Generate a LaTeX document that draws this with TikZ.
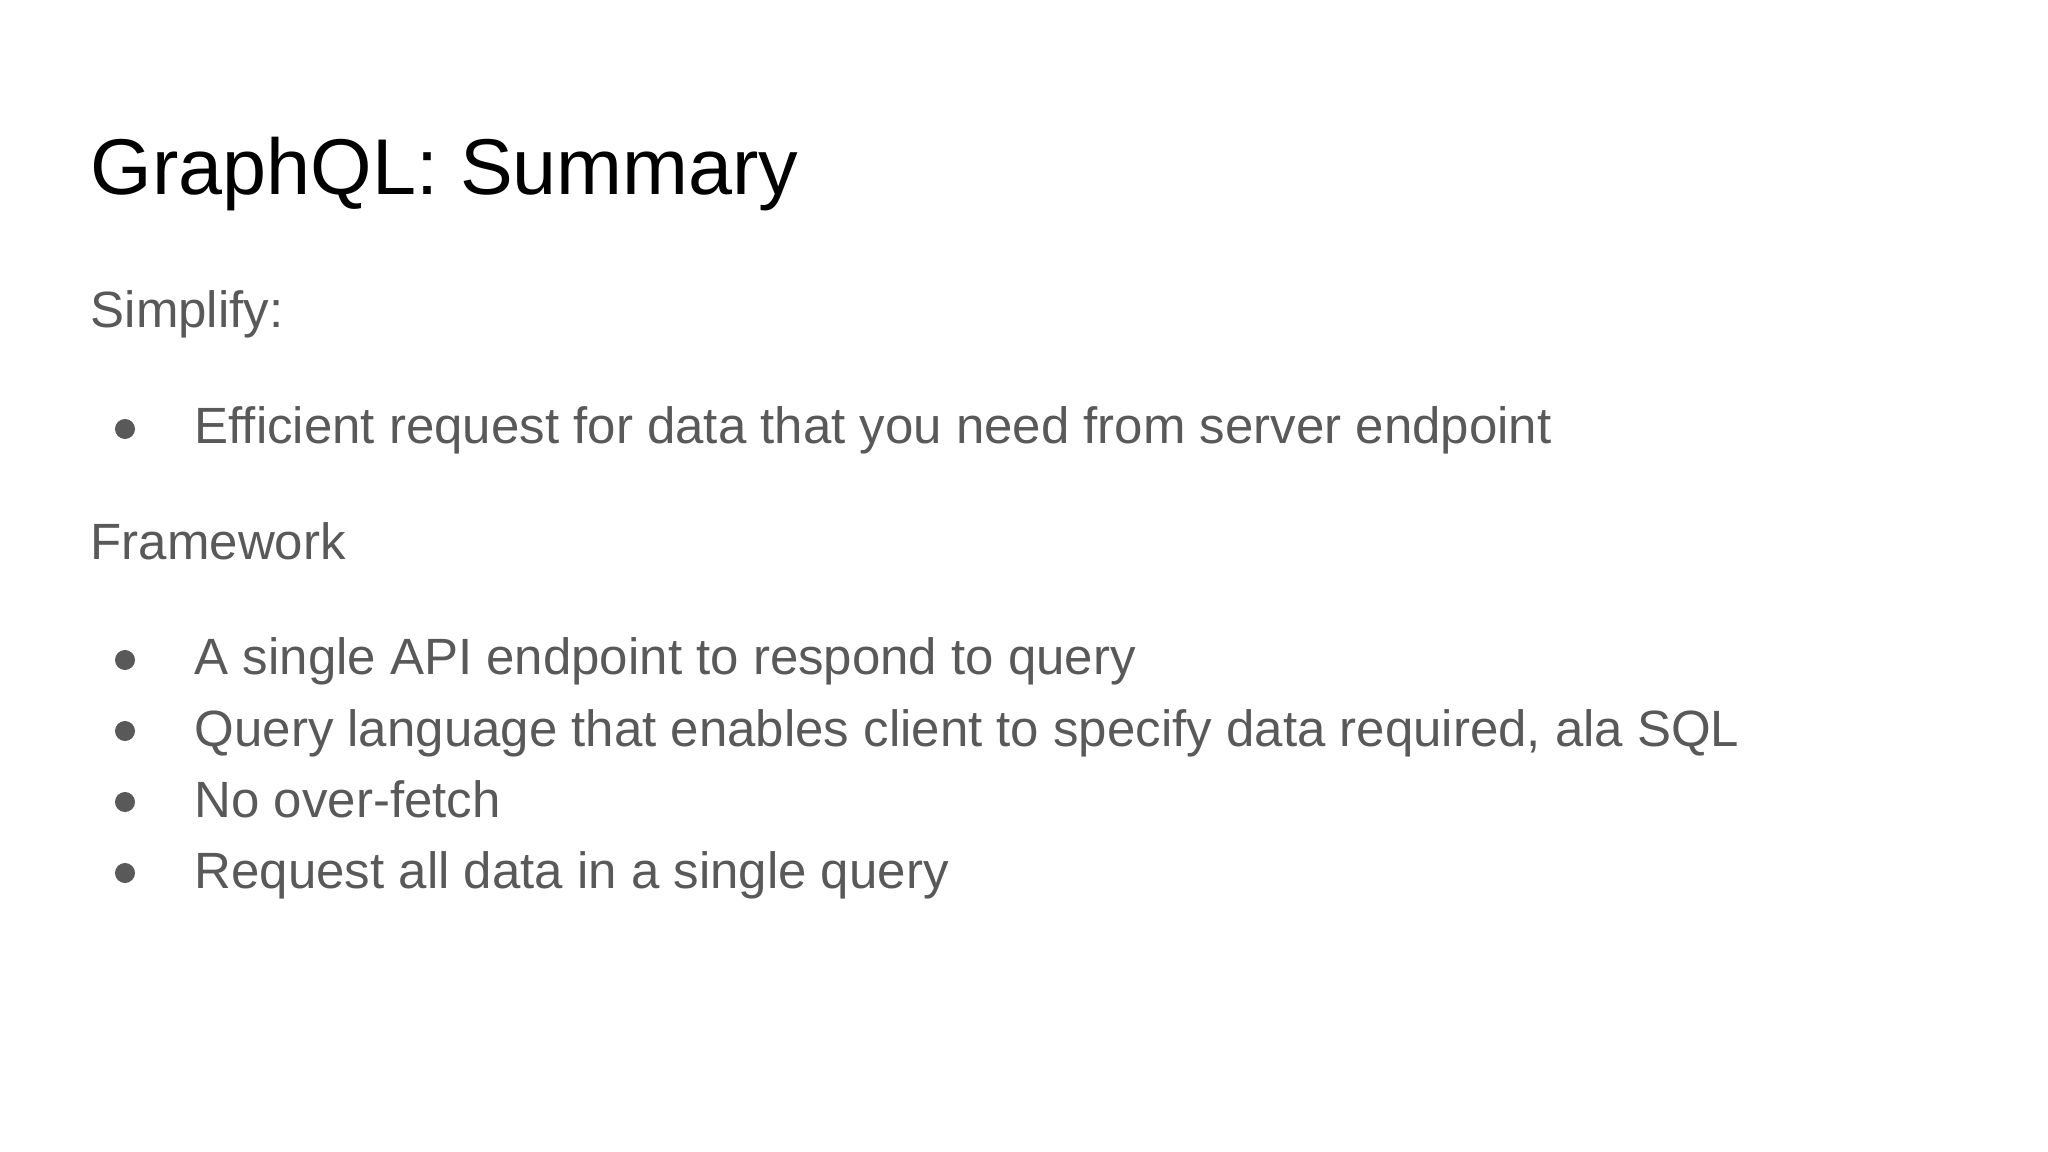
\documentclass[tikz,border=0pt]{standalone}
\usepackage{fontspec}
\setmainfont{Liberation Sans}
\definecolor{bodygray}{HTML}{595959}
\begin{document}
\begin{tikzpicture}[x=0.01cm,y=-0.01cm,
  title/.style={anchor=base west,inner sep=0pt,font=\fontsize{22.5}{27}\selectfont,text=black},
  body/.style={anchor=base west,inner sep=0pt,font=\fontsize{14.5}{17}\selectfont,text=bodygray},
  dot/.style={circle,fill=bodygray,inner sep=0pt,minimum size=0.2cm}]
\useasboundingbox (0,0) rectangle (2048,1152);
\node[title] (t) at (90,195) {GraphQL: Summary};
\node[body] (s) at (90,328) {Simplify:};
\node[dot] (d1) at (125,429) {};
\node[body] (b1) at (194,444) {Efficient request for data that you need from server endpoint};
\node[body] (f) at (90,560) {Framework};
\node[dot] (d2) at (125,660) {};
\node[body] (b2) at (194,675) {A single API endpoint to respond to query};
\node[dot] (d3) at (125,731) {};
\node[body] (b3) at (194,746) {Query language that enables client to specify data required, ala SQL};
\node[dot] (d4) at (125,802) {};
\node[body] (b4) at (194,817) {No over-fetch};
\node[dot] (d5) at (125,873) {};
\node[body] (b5) at (194,888) {Request all data in a single query};
\end{tikzpicture}
\end{document}
